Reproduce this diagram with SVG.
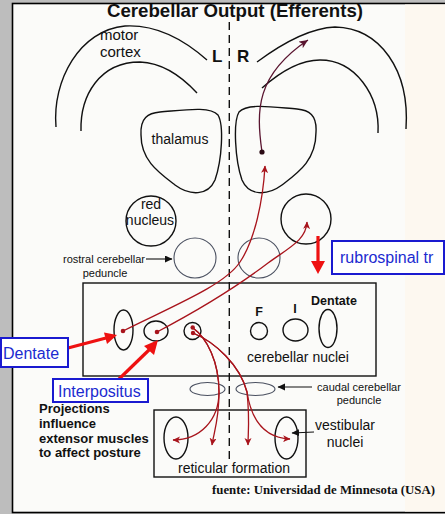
<svg xmlns="http://www.w3.org/2000/svg" width="445" height="514" viewBox="0 0 445 514">
<defs>
<style>
.ln{fill:none;stroke:#111;stroke-width:1.4}
.thin{fill:none;stroke:#4a5060;stroke-width:1.1}
.red{fill:none;stroke:#a8141c;stroke-width:1.3}
.t{font-family:"Liberation Sans",Arial,sans-serif;fill:#111}
.b{font-weight:bold}
.blue{font-family:"Liberation Sans",Arial,sans-serif;font-size:16px;fill:#1c2bd0}
.bbox{fill:#fff;stroke:#1a1ad0;stroke-width:2}
.big{fill:none;stroke:#ee1111;stroke-width:3.2}
</style>
<marker id="ah" markerUnits="userSpaceOnUse" markerWidth="9" markerHeight="8" refX="7" refY="3.5" orient="auto">
<path d="M0,0 L7.5,3.5 L0,7 L2,3.5 Z" fill="#a8141c"/>
</marker>
<marker id="ahm" markerUnits="userSpaceOnUse" markerWidth="11" markerHeight="9" refX="9" refY="4" orient="auto">
<path d="M0,0 L9,4 L0,8 L2.5,4 Z" fill="#5a1530"/>
</marker>
<marker id="ak" markerUnits="userSpaceOnUse" markerWidth="9" markerHeight="8" refX="7" refY="3.5" orient="auto">
<path d="M0,0 L7.5,3.5 L0,7 Z" fill="#111"/>
</marker>
</defs>
<rect x="0" y="0" width="445" height="514" fill="#bdbdbd"/>
<rect x="12.5" y="3.5" width="440" height="509" fill="#fbfbf9" stroke="#000" stroke-width="1.6"/>
<rect x="405" y="4.5" width="40" height="507" fill="#fdf8f0"/>

<text class="t b" x="235" y="17" font-size="18.5" text-anchor="middle" textLength="256" lengthAdjust="spacingAndGlyphs">Cerebellar Output (Efferents)</text>

<line x1="229.3" y1="22" x2="229.3" y2="462" stroke="#111" stroke-width="1.4" stroke-dasharray="8,5"/>

<g id="cortex-left">
<path class="ln" d="M56 127 C 52 80, 80 30, 125 26 C 160 24, 190 45, 207 60"/>
<path class="ln" d="M81 131 C 80 95, 100 62, 140 62 C 165 63, 185 80, 197 93"/>
<text class="t" x="100" y="40" font-size="15">motor</text>
<text class="t" x="100" y="57" font-size="15">cortex</text>
<text class="t b" x="212" y="62" font-size="17">L</text>
</g>
<g id="cortex-right">
<path class="ln" d="M257 62 C 280 45, 310 28, 335 27 C 380 28, 410 70, 406 129"/>
<path class="ln" d="M262 88 C 280 72, 300 60, 320 60 C 355 60, 380 95, 378 133"/>
<text class="t b" x="237" y="62" font-size="17">R</text>
</g>

<g id="thalamus-left">
<path class="ln" d="M160 112 C 185 110, 210 106, 218 115 C 224 125, 222 160, 215 180 C 208 196, 190 196, 175 185 C 158 172, 141 160, 141 135 C 140 118, 148 113, 160 112 Z"/>
<text class="t" x="180" y="144" font-size="14" text-anchor="middle">thalamus</text>
</g>
<g id="thalamus-right">
<path class="ln" d="M297 109 C 272 107, 247 103, 239 112 C 233 122, 235 160, 242 180 C 249 196, 267 196, 282 185 C 299 172, 316 160, 316 132 C 317 115, 309 110, 297 109 Z"/>
</g>

<g id="rednucleus-left">
<circle class="ln" cx="151" cy="221" r="25"/>
<text class="t" x="151" y="209" font-size="14" text-anchor="middle">red</text>
<text class="t" x="150" y="225" font-size="14" text-anchor="middle">nucleus</text>
</g>
<g id="rednucleus-right">
<circle class="ln" cx="306" cy="219" r="25"/>
</g>

<g id="rostral-peduncle">
<ellipse class="thin" cx="195" cy="258" rx="21" ry="20"/>
<ellipse class="thin" cx="259" cy="258" rx="21" ry="20"/>
<text class="t" x="104" y="263" font-size="11" text-anchor="middle">rostral cerebellar</text>
<text class="t" x="105" y="277" font-size="11" text-anchor="middle">peduncle</text>
</g>

<g id="cerebellar-nuclei">
<rect class="ln" x="83" y="283" width="293" height="93"/>
<ellipse class="ln" cx="123.5" cy="330" rx="9.5" ry="20"/>
<ellipse class="ln" cx="156" cy="331" rx="12" ry="10"/>
<circle class="ln" cx="192.5" cy="331" r="8.5"/>
<circle class="ln" cx="259" cy="331" r="8.5"/>
<ellipse class="ln" cx="295.5" cy="330" rx="12.5" ry="11"/>
<ellipse class="ln" cx="328" cy="328.5" rx="9" ry="19"/>
<text class="t b" x="259" y="316" font-size="12.5" text-anchor="middle">F</text>
<text class="t b" x="295" y="313" font-size="12.5" text-anchor="middle">I</text>
<text class="t b" x="334" y="305" font-size="12.5" text-anchor="middle">Dentate</text>
<text class="t" x="298" y="362" font-size="14" text-anchor="middle">cerebellar nuclei</text>
</g>

<g id="caudal-peduncle">
<ellipse class="thin" cx="207.5" cy="389" rx="17.5" ry="6.5"/>
<ellipse class="thin" cx="255.5" cy="389" rx="19.5" ry="6.5"/>
<text class="t" x="359" y="391" font-size="11" text-anchor="middle">caudal cerebellar</text>
<text class="t" x="359" y="404" font-size="11" text-anchor="middle">peduncle</text>
</g>

<g id="reticular-formation">
<rect class="ln" x="154" y="410" width="152" height="67"/>
<ellipse class="ln" cx="176" cy="438" rx="12" ry="21"/>
<ellipse class="ln" cx="286.5" cy="438" rx="11.5" ry="21"/>
<text class="t" x="234" y="473" font-size="14" text-anchor="middle">reticular formation</text>
</g>
<g id="vestibular-label">
<text class="t" x="345" y="430" font-size="14" text-anchor="middle">vestibular</text>
<text class="t" x="345" y="447" font-size="14" text-anchor="middle">nuclei</text>
</g>

<g id="projections-note">
<text class="t b" x="39" y="413" font-size="13">Projections</text>
<text class="t b" x="39" y="428" font-size="13">influence</text>
<text class="t b" x="39" y="443" font-size="13">extensor muscles</text>
<text class="t b" x="39" y="457" font-size="13">to affect posture</text>
</g>

<g id="connectors">
<line x1="146" y1="259" x2="172" y2="259" stroke="#111" stroke-width="1.1" marker-end="url(#ak)"/>
<line x1="312" y1="387" x2="278" y2="387" stroke="#111" stroke-width="1.1" marker-end="url(#ak)"/>
<line x1="314" y1="432" x2="292" y2="433" stroke="#111" stroke-width="1.1" marker-end="url(#ak)"/>

<path d="M262 152 C 256 110, 256 75, 308 40" fill="none" stroke="#5a1530" stroke-width="1.3" marker-end="url(#ahm)"/>
<circle cx="262" cy="152" r="2.6" fill="#2a0a14"/>
<path class="red" d="M123 331 C 175 305, 225 285, 240 262 C 255 240, 263 200, 265 166" marker-end="url(#ah)"/>
<path class="red" d="M157 332 C 195 312, 230 292, 268 263 C 290 247, 306 240, 307 222" marker-end="url(#ah)"/>
<path class="red" d="M193 328 C 207 338, 219 362, 219 392 C 219 420, 200 440, 173 440" marker-end="url(#ah)"/>
<path class="red" d="M193 328 C 207 338, 219 362, 219 392 C 219 420, 214 432, 212 445" marker-end="url(#ah)"/>
<path class="red" d="M193 333 C 215 342, 240 365, 247 392 C 250 420, 248 432, 248 445" marker-end="url(#ah)"/>
<path class="red" d="M193 333 C 215 342, 240 365, 247 392 C 252 425, 268 438, 290 439" marker-end="url(#ah)"/>
<circle cx="123" cy="331" r="2.3" fill="#a8141c"/>
<circle cx="157" cy="332" r="2.3" fill="#a8141c"/>
<circle cx="192.7" cy="327.5" r="2.2" fill="#a8141c"/>
<circle cx="193" cy="333" r="2.2" fill="#a8141c"/>
</g>

<g id="label-rubrospinal">
<line class="big" x1="318" y1="236" x2="318" y2="262"/>
<polygon points="311,261 325,261 318,274" fill="#ee1111"/>
<rect class="bbox" x="332" y="241" width="112" height="33"/>
<text class="blue" x="340" y="263">rubrospinal tr</text>
</g>
<g id="label-dentate">
<line class="big" x1="68" y1="348" x2="106" y2="338"/>
<polygon points="104,332.5 107,344 117,335" fill="#ee1111"/>
<rect class="bbox" x="1" y="338" width="67" height="29"/>
<text class="blue" x="3" y="359">Dentate</text>
</g>
<g id="label-interpositus">
<line class="big" x1="118" y1="380" x2="150" y2="349"/>
<polygon points="144,346 154,355 158,340" fill="#ee1111"/>
<rect class="bbox" x="53" y="379" width="95" height="23"/>
<text class="blue" x="58" y="397">Interpositus</text>
</g>

<text x="435" y="494" font-family="'Liberation Serif','Times New Roman',serif" font-weight="bold" font-size="12" fill="#111" text-anchor="end" textLength="223" lengthAdjust="spacingAndGlyphs">fuente: Universidad de Minnesota (USA)</text>
</svg>
